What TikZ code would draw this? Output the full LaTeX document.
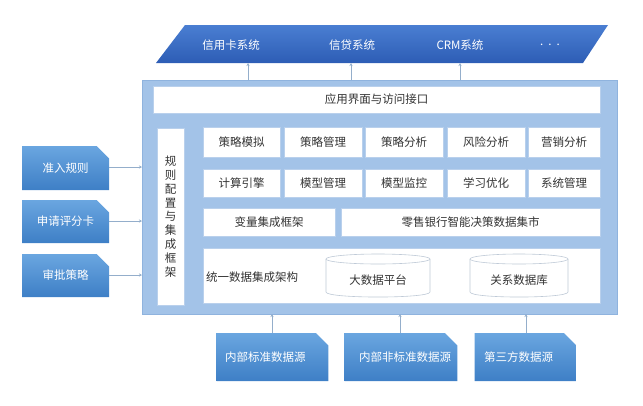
\documentclass[tikz,border=0pt]{standalone}
\usepackage{fontspec}
\setmainfont{Noto Sans CJK SC}
\usetikzlibrary{arrows.meta,shapes.misc}
\definecolor{panelfill}{HTML}{A3C3E8}
\definecolor{paneldraw}{HTML}{8FB3DE}
\definecolor{boxdraw}{HTML}{B9D0EC}
\definecolor{txt}{HTML}{333333}
\definecolor{topA}{HTML}{4A7ED2}
\definecolor{topB}{HTML}{2D5DB5}
\definecolor{sideA}{HTML}{6AA6E0}
\definecolor{sideB}{HTML}{3E7FC6}
\definecolor{conn}{HTML}{94AECB}
\begin{document}
\begin{tikzpicture}[x=1pt,y=-1pt,
  every node/.style={font=\fontsize{11.5}{13.8}\selectfont, inner sep=0pt},
  wbox/.style={draw=boxdraw, fill=white, line width=0.6pt, text=txt},
  bluebox/.style={chamfered rectangle, chamfered rectangle corners=north east,
     chamfered rectangle xsep=7pt, chamfered rectangle ysep=7pt,
     top color=sideA, bottom color=sideB, draw=none, text=white},
  conline/.style={draw=conn, line width=0.6pt, -{Stealth[length=3pt,width=3pt]}},
  whitetxt/.style={text=white}]
\useasboundingbox (0,0) rectangle (643,405);
% top parallelogram
\shade[top color=topA, bottom color=topB] (185,25) -- (608,25) -- (583,63) -- (156,63) -- cycle;
\node[whitetxt] (ccs) at (231,45) {信用卡系统};
\node[whitetxt] (loan) at (352,45) {信贷系统};
\node[whitetxt] (crm) at (460,45) {CRM系统};
\node[whitetxt] (dots) at (550,45) {.\hspace{5pt}.\hspace{5pt}.};
\coordinate (t1) at (248,63);
\coordinate (t2) at (351,63);
\coordinate (t3) at (460,63);
% main panel
\node[fill=panelfill, draw=paneldraw, line width=0.6pt, minimum width=475pt, minimum height=234pt] (panel) at (379.5,197) {};
\coordinate (p1) at (248,80);
\coordinate (p2) at (351,80);
\coordinate (p3) at (460,80);
\draw[conline] (p1) -- (t1);
\draw[conline] (p2) -- (t2);
\draw[conline] (p3) -- (t3);
% app interface
\node[wbox, minimum width=447pt, minimum height=27pt] (app) at (376.5,99.5) {应用界面与访问接口};
% vertical box
\node[wbox, minimum width=27pt, minimum height=177pt, align=center] (rule) at (170.5,216.5) {规\\则\\配\\置\\与\\集\\成\\框\\架};
% row 1
\node[wbox, minimum width=77pt, minimum height=30pt] (r11) at (241.5,142) {策略模拟};
\node[wbox, minimum width=78pt, minimum height=30pt] (r12) at (323,142) {策略管理};
\node[wbox, minimum width=78pt, minimum height=30pt] (r13) at (404,142) {策略分析};
\node[wbox, minimum width=78pt, minimum height=30pt] (r14) at (486,142) {风险分析};
\node[wbox, minimum width=72pt, minimum height=30pt] (r15) at (564,142) {营销分析};
% row 2
\node[wbox, minimum width=77pt, minimum height=28pt] (r21) at (241.5,183) {计算引擎};
\node[wbox, minimum width=78pt, minimum height=28pt] (r22) at (323,183) {模型管理};
\node[wbox, minimum width=78pt, minimum height=28pt] (r23) at (404,183) {模型监控};
\node[wbox, minimum width=78pt, minimum height=28pt] (r24) at (486,183) {学习优化};
\node[wbox, minimum width=72pt, minimum height=28pt] (r25) at (564,183) {系统管理};
% row 3
\node[wbox, minimum width=132pt, minimum height=28pt] (r31) at (269,222) {变量集成框架};
\node[wbox, minimum width=259pt, minimum height=28pt] (r32) at (470.5,222) {零售银行智能决策数据集市};
% data integration box
\node[wbox, minimum width=397pt, minimum height=55pt] (data) at (401.5,275.5) {};
\node[anchor=west, text=txt] (datatxt) at (206,277) {统一数据集成架构};
% cylinders
\draw[draw=boxdraw!80!black!60, line width=0.6pt, fill=white] (326,259) -- (326,292) .. controls (326,298.7) and (430,298.7) .. (430,292) -- (430,259);
\draw[draw=boxdraw!80!black!60, line width=0.6pt, fill=white] (378,259) ellipse [x radius=52pt, y radius=5pt];
\node[text=txt] (bigdata) at (378,280) {大数据平台};
\draw[draw=boxdraw!80!black!60, line width=0.6pt, fill=white] (470,259) -- (470,292) .. controls (470,298.7) and (568,298.7) .. (568,292) -- (568,259);
\draw[draw=boxdraw!80!black!60, line width=0.6pt, fill=white] (519,259) ellipse [x radius=49pt, y radius=5pt];
\node[text=txt] (rdb) at (519,280) {关系数据库};
% left boxes
\node[bluebox, minimum width=87pt, minimum height=44pt] (l1) at (65.5,168) {准入规则};
\node[bluebox, minimum width=87pt, minimum height=43pt] (l2) at (65.5,221.5) {申请评分卡};
\node[bluebox, minimum width=87pt, minimum height=43pt] (l3) at (65.5,275.5) {审批策略};
\coordinate (e1) at (142,167);
\coordinate (e2) at (142,221);
\coordinate (e3) at (142,275);
\draw[conline] (l1.east |- e1) -- (e1);
\draw[conline] (l2.east |- e2) -- (e2);
\draw[conline] (l3.east |- e3) -- (e3);
% bottom boxes
\node[bluebox, text width=101pt, minimum height=48pt, align=left] (b1) at (272.5,357) {\hspace*{3pt}\raisebox{-3pt}{内部标准数据源}};
\node[bluebox, text width=102pt, minimum height=48pt, align=left] (b2) at (401,357) {\hspace*{9pt}\raisebox{-3pt}{内部非标准数据源}};
\node[bluebox, text width=91pt, minimum height=48pt, align=left] (b3) at (525.5,357) {\hspace*{4pt}\raisebox{-3pt}{第三方数据源}};
\coordinate (q1) at (272,314);
\coordinate (q2) at (400,314);
\coordinate (q3) at (526,314);
\draw[conline] (b1.north -| q1) -- (q1);
\draw[conline] (b2.north -| q2) -- (q2);
\draw[conline] (b3.north -| q3) -- (q3);
\end{tikzpicture}
\end{document}
